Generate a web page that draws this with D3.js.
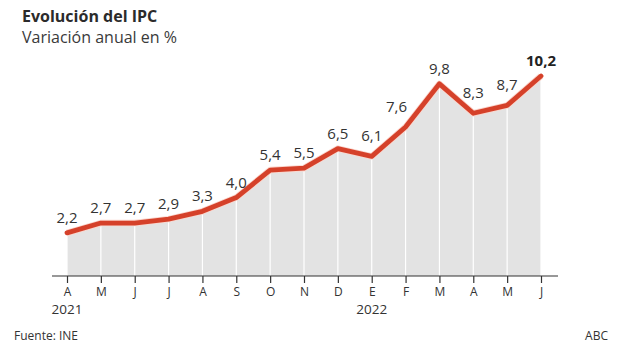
<!DOCTYPE html>
<html>
<head>
<meta charset="utf-8">
<script src="https://cdn.jsdelivr.net/npm/d3@7/dist/d3.min.js"></script>
<style>
  html, body { margin: 0; padding: 0; background: #fff; }
  svg { display: block; font-family: "Open Sans", "Noto Sans", sans-serif; }
</style>
</head>
<body>
<svg id="chart" width="620" height="349"></svg>
<script>
// Interannual CPI variation, April 2021 - June 2022
const months = ["A", "M", "J", "J", "A", "S", "O", "N", "D", "E", "F", "M", "A", "M", "J"];
const values = [2.2, 2.7, 2.7, 2.9, 3.3, 4.0, 5.4, 5.5, 6.5, 6.1, 7.6, 9.8, 8.3, 8.7, 10.2];
const yearLabels = [{ index: 0, label: "2021" }, { index: 9, label: "2022" }];

const svg = d3.select("#chart");

const x = d3.scalePoint().domain(d3.range(months.length)).range([67, 541]);
const y = d3.scaleLinear().domain([0, 10.2]).range([276, 76]);

const fmt = v => d3.format(".1f")(v).replace(".", ",");

// Title block
svg.append("text").attr("x", 22).attr("y", 22)
  .attr("font-size", 16).attr("font-weight", 700).attr("fill", "#2b2b2b")
  .text("Evolución del IPC");
svg.append("text").attr("x", 22).attr("y", 43)
  .attr("font-size", 16).attr("fill", "#3a3a3a")
  .text("Variación anual en %");

const data = values.map((v, i) => ({ i, v }));

// Shaded area under the line
svg.append("path").datum(data)
  .attr("fill", "#e3e3e3")
  .attr("d", d3.area().x(d => x(d.i)).y0(y(0)).y1(d => y(d.v)));

// White vertical guides at each month
svg.append("g").selectAll("line").data(data).join("line")
  .attr("x1", d => x(d.i)).attr("x2", d => x(d.i))
  .attr("y1", y(0)).attr("y2", d => y(d.v))
  .attr("stroke", "#fff").attr("stroke-width", 1.2);

// Bottom axis
const axis = d3.axisBottom(x).tickFormat(i => months[i]).tickSize(7).tickPadding(4);
const gx = svg.append("g").attr("transform", `translate(0,${y(0)})`).call(axis);
gx.select(".domain").remove();
gx.selectAll(".tick line").attr("stroke", "#333").attr("stroke-width", 1.2);
gx.selectAll(".tick text").attr("font-size", 12).attr("fill", "#333")
  .attr("font-family", "Open Sans, sans-serif");
svg.append("line").attr("x1", 52).attr("x2", 558)
  .attr("y1", y(0)).attr("y2", y(0))
  .attr("stroke", "#333").attr("stroke-width", 1.2);

svg.append("g").selectAll("text").data(yearLabels).join("text")
  .attr("x", d => x(d.index)).attr("y", 314)
  .attr("text-anchor", "middle").attr("font-size", 13.5).attr("fill", "#333")
  .text(d => d.label);

// Main line
const line = d3.line().x(d => x(d.i)).y(d => y(d.v));
svg.append("path").datum(data)
  .attr("fill", "none").attr("stroke", "#fbd6cd").attr("stroke-width", 6.5)
  .attr("stroke-linejoin", "round")
  .attr("d", line);
svg.append("path").datum(data)
  .attr("fill", "none").attr("stroke", "#d5412a").attr("stroke-width", 4.8)
  .attr("stroke-linejoin", "round").attr("stroke-linecap", "round")
  .attr("d", line);

// Value labels: lifted more over local dips, nudged left on steep climbs
const last = data.length - 1;
svg.append("g").selectAll("text").data(data).join("text")
  .attr("x", d => {
    const next = data[d.i + 1];
    return x(d.i) - (next && next.v - d.v > 1.5 && d.i > 0 && d.v - data[d.i - 1].v > 1 ? 9 : 0);
  })
  .attr("y", d => {
    const prev = data[d.i - 1];
    const dip = prev && prev.v > d.v;
    const nearDip = prev && d.i > 1 && data[d.i - 2].v > prev.v && d.i !== last;
    return y(d.v) - (dip || nearDip ? 15 : 10);
  })
  .attr("text-anchor", "middle")
  .attr("font-size", 15)
  .attr("font-weight", d => d.i === last ? 700 : 400)
  .attr("fill", d => d.i === last ? "#222" : "#333")
  .text(d => fmt(d.v));

// Footer
svg.append("text").attr("x", 14).attr("y", 340)
  .attr("font-size", 12).attr("fill", "#333").text("Fuente: INE");
svg.append("text").attr("x", 608).attr("y", 340).attr("text-anchor", "end")
  .attr("font-size", 12).attr("fill", "#333").text("ABC");
</script>
</body>
</html>
